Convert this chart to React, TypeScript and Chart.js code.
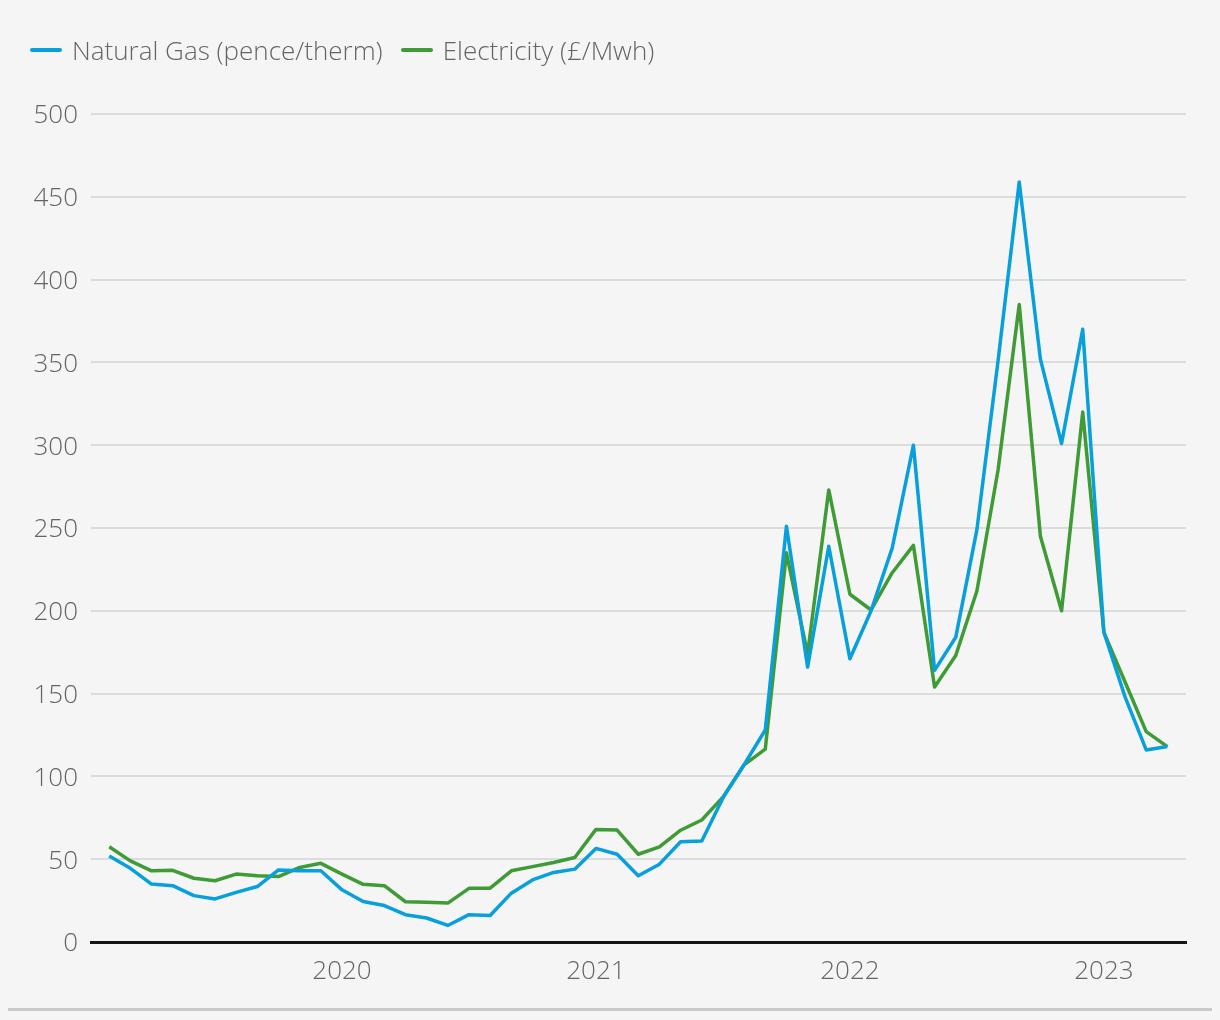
import React, { useEffect, useRef } from "react";
import { Chart, registerables } from "chart.js";

Chart.register(...registerables);

const MONTHS: string[] = [
  "Feb 2019", "Mar 2019", "Apr 2019", "May 2019", "Jun 2019", "Jul 2019", "Aug 2019", "Sep 2019", "Oct 2019", "Nov 2019", "Dec 2019",
  "Jan 2020", "Feb 2020", "Mar 2020", "Apr 2020", "May 2020", "Jun 2020", "Jul 2020", "Aug 2020", "Sep 2020", "Oct 2020", "Nov 2020", "Dec 2020",
  "Jan 2021", "Feb 2021", "Mar 2021", "Apr 2021", "May 2021", "Jun 2021", "Jul 2021", "Aug 2021", "Sep 2021", "Oct 2021", "Nov 2021", "Dec 2021",
  "Jan 2022", "Feb 2022", "Mar 2022", "Apr 2022", "May 2022", "Jun 2022", "Jul 2022", "Aug 2022", "Sep 2022", "Oct 2022", "Nov 2022", "Dec 2022",
  "Jan 2023", "Feb 2023", "Mar 2023", "Apr 2023",
];

const GAS: number[] = [
  52, 44.5, 35, 34, 28, 26, 30, 33.5, 43.5, 43, 43,
  31.5, 24.5, 22, 16.5, 14.5, 10, 16.5, 16, 29.5, 37.5, 42, 44,
  56.5, 53, 40, 47, 60.5, 61, 87, 107, 128, 251, 166, 239,
  171, 200, 238, 300, 164, 184, 249, 351, 459, 352, 301, 370,
  187, 148, 116, 118,
];

const ELECTRICITY: number[] = [
  57.5, 49, 43, 43.3, 38.5, 37, 41, 40, 39.5, 45, 47.5,
  41, 34.8, 34, 24.3, 24, 23.5, 32.4, 32.5, 43, 45.5, 48, 51,
  68, 67.6, 53, 57.5, 67.5, 73.7, 87.5, 107, 116.5, 235, 174, 273,
  210, 200.5, 223, 239.5, 154, 173, 212, 285, 385, 245, 200, 320,
  187, 157, 127, 118,
];

const YEAR_TICKS: string[] = ["2020", "2021", "2022", "2023"];

const SERIES_NAMES: string[] = ["Natural Gas (pence/therm)", "Electricity (£/Mwh)"];
const SERIES_COLORS: string[] = ["#07a0dc", "#3e9b35"];

const FONT = "'Open Sans', 'DejaVu Sans', sans-serif";
const TEXT_COLOR = "#656565";

export default function App() {
  const canvasRef = useRef<HTMLCanvasElement | null>(null);

  useEffect(() => {
    document.body.style.margin = "0";
    const canvas = canvasRef.current;
    if (!canvas) return;
    const toPoints = (arr: number[]) => arr.map((v, i) => ({ x: i, y: v }));
    const chart = new Chart(canvas, {
      type: "line",
      data: {
        datasets: [
          {
            label: SERIES_NAMES[0],
            data: toPoints(GAS),
            borderColor: SERIES_COLORS[0],
            backgroundColor: SERIES_COLORS[0],
            borderWidth: 3.5,
            pointRadius: 0,
            tension: 0,
            borderJoinStyle: "round",
          },
          {
            label: SERIES_NAMES[1],
            data: toPoints(ELECTRICITY),
            borderColor: SERIES_COLORS[1],
            backgroundColor: SERIES_COLORS[1],
            borderWidth: 3.5,
            pointRadius: 0,
            tension: 0,
            borderJoinStyle: "round",
          },
        ],
      },
      options: {
        animation: false,
        responsive: false,
        devicePixelRatio: 1,
        layout: { padding: { top: 114, right: 34, left: 0, bottom: 0 } },
        plugins: {
          legend: { display: false },
          tooltip: { enabled: false },
        },
        scales: {
          x: {
            type: "linear",
            min: -0.86,
            max: 50.88,
            grid: { display: false, drawTicks: false },
            border: { display: true, color: "#161616", width: 3 },
            afterBuildTicks: (scale: any) => {
              scale.ticks = YEAR_TICKS.map((y) => ({ value: MONTHS.indexOf("Jan " + y) }));
            },
            afterFit: (scale: any) => {
              scale.height = 78;
            },
            ticks: {
              autoSkip: false,
              maxRotation: 0,
              padding: 14,
              color: TEXT_COLOR,
              font: { family: FONT, size: 26, weight: 300 },
              callback: (value: any) => {
                const m = MONTHS[Number(value)];
                return m ? m.split(" ")[1] : "";
              },
            },
          },
          y: {
            min: 0,
            max: 500,
            grid: { color: "#dcdcdc", lineWidth: 2, drawTicks: false },
            border: { display: false },
            afterFit: (scale: any) => {
              scale.width = 91;
            },
            ticks: {
              stepSize: 50,
              padding: 13,
              labelOffset: 2,
              color: TEXT_COLOR,
              font: { family: FONT, size: 26, weight: 300 },
            },
          },
        },
      },
    });
    return () => chart.destroy();
  }, []);

  return (
    <div style={{ position: "relative", width: 1220, height: 1020, background: "#f5f5f5", overflow: "hidden" }}>
      <canvas ref={canvasRef} width={1220} height={1020} style={{ position: "absolute", left: 0, top: 0 }} />
      <div
        style={{
          position: "absolute",
          left: 30,
          top: 33,
          height: 34,
          display: "flex",
          alignItems: "center",
          fontFamily: FONT,
          fontWeight: 300,
          fontSize: 26,
          color: TEXT_COLOR,
          whiteSpace: "nowrap",
        }}
      >
        {SERIES_NAMES.map((name, i) => (
          <div key={name} style={{ display: "flex", alignItems: "center", marginRight: 18 }}>
            <span style={{ display: "inline-block", width: 32, height: 4, borderRadius: 2, background: SERIES_COLORS[i], marginRight: 10 }} />
            <span>{name}</span>
          </div>
        ))}
      </div>
      <div style={{ position: "absolute", left: 8, top: 1008, width: 1204, height: 3, background: "#c9c9c9" }} />
    </div>
  );
}
